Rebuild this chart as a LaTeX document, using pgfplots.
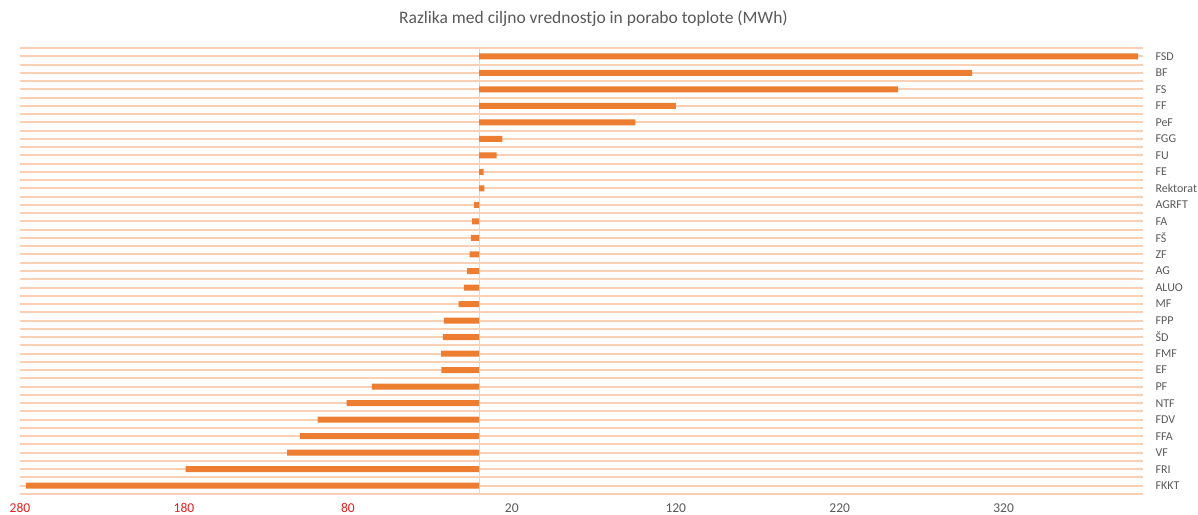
\documentclass[border=0pt]{standalone}
\usepackage{pgfplots}
\usepackage{pgfplotstable}
\pgfplotsset{compat=1.18}
\usepackage{fontspec}
\setmainfont{Carlito}
\definecolor{barorange}{RGB}{237,125,49}
\definecolor{gridorange}{RGB}{249,208,180}
\definecolor{txtgray}{RGB}{89,89,89}
\definecolor{zerogray}{RGB}{217,217,217}
\definecolor{negred}{RGB}{230,30,30}

\pgfplotstableread{
idx val
0 402
1 300.8
2 255.6
3 120.1
4 95.4
5 14.2
6 10.8
7 2.8
8 3.2
9 -3
10 -4.2
11 -5
12 -5.7
13 -7.3
14 -9.3
15 -12.5
16 -21.5
17 -22
18 -23.2
19 -23
20 -65.4
21 -80.7
22 -98.5
23 -109.3
24 -117
25 -178.9
26 -276.4
}\datatable

\begin{document}
\begin{tikzpicture}[x=1pt,y=1pt]
\useasboundingbox (0,0) rectangle (1198,514);
\begin{axis}[
  at={(20pt,20pt)}, anchor=south west,
  scale only axis, width=1123pt, height=446pt,
  xmin=-280, xmax=405, ymin=-0.5, ymax=26.5,
  y dir=reverse,
  axis line style={draw=none},
  major tick length=0pt, minor tick length=0pt,
  xtick={-280,-180,-80,20,120,220,320},
  xticklabels={{\textcolor{negred}{280}},{\textcolor{negred}{180}},{\textcolor{negred}{80}},20,120,220,320},
  xticklabel style={font=\fontsize{13.5}{15}\selectfont, text=txtgray, yshift=-6pt},
  ytick={0,...,26},
  yticklabels={FSD,BF,FS,FF,PeF,FGG,FU,FE,Rektorat,AGRFT,FA,FŠ,ZF,AG,ALUO,MF,FPP,ŠD,FMF,EF,PF,NTF,FDV,FFA,VF,FRI,FKKT},
  yticklabel pos=right,
  yticklabel style={font=\fontsize{12}{14}\selectfont, text=txtgray, anchor=west, xshift=9pt},
  minor ytick={-0.5,0,...,26.5},
  ymajorgrids=false, yminorgrids=true,
  minor grid style={draw=gridorange, line width=2pt},
  title={Razlika med ciljno vrednostjo in porabo toplote (MWh)},
  title style={font=\fontsize{17.5}{20}\selectfont, text=txtgray, at={(0.5,1)}, anchor=base, yshift=19pt, xshift=12pt},
  clip=false,
]
\addplot[zerogray, line width=1pt, forget plot] coordinates {(0,-0.5) (0,26.5)};
\addplot[xbar, bar width=6pt, bar shift=0pt, fill=barorange, draw=none] table[x=val, y=idx] {\datatable};
\end{axis}
\end{tikzpicture}
\end{document}
